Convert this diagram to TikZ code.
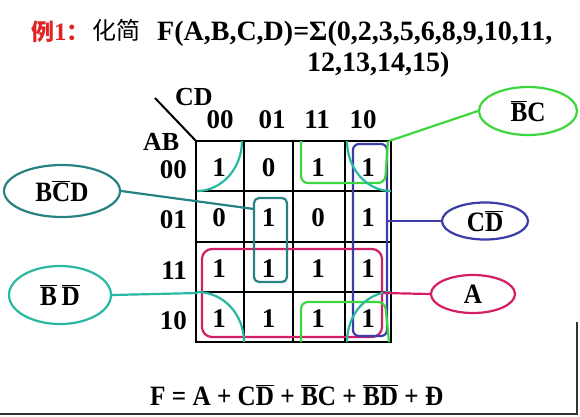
\documentclass[tikz,border=0pt]{standalone}
\usepackage{fontspec}
\setmainfont{Liberation Serif}
\newfontfamily\cond[FakeStretch=0.9]{Liberation Serif}
\newfontfamily\cjk{Noto Sans CJK SC}
\usetikzlibrary{shapes.geometric}
\definecolor{tred}{RGB}{225,35,40}
\definecolor{bteal}{RGB}{40,185,160}
\definecolor{dteal}{RGB}{40,130,130}
\definecolor{kgreen}{RGB}{60,215,60}
\definecolor{kblue}{RGB}{60,60,170}
\definecolor{kmag}{RGB}{210,30,100}
\newcommand\fs[1]{\fontsize{#1}{#1}\selectfont\bfseries}
\newcommand\fc[1]{\fontsize{#1}{#1}\selectfont\cond\bfseries}
\newcommand\ob[1]{$\overline{\mbox{#1}}$}
\tikzset{
  gridline/.style={line width=2.8pt, black},
  grp/.style={line width=2.2pt},
  lab/.style={ellipse, draw, line width=2.2pt, inner sep=0pt, font=\fc{28}},
  txt/.style={inner sep=0pt, anchor=base},
  cellv/.style={inner sep=0pt, anchor=base, font=\fs{27}},
}
\begin{document}
\begin{tikzpicture}[x=1pt,y=-1pt]
\useasboundingbox (0,0) rectangle (580,416);
% title
\node[inner sep=0pt, anchor=base west, text=tred] (ex) at (31,40) {\fontsize{23}{23}\selectfont\cjk\bfseries 例\rmfamily\bfseries\fontsize{25}{25}\selectfont 1\cjk\fontsize{23}{23}\selectfont ：};
\node[inner sep=0pt, anchor=base west] (hj) at (92,39) {\fontsize{24}{24}\selectfont\cjk 化简};
\node[inner sep=0pt, anchor=base west] (t1) at (157,40) {\fs{28}F(A,B,C,D)=Σ(0,2,3,5,6,8,9,10,11,};
\node[inner sep=0pt, anchor=base west] (t2) at (307,71) {\fs{28}12,13,14,15)};
% corner labels
\coordinate (dg1) at (155,98);
\coordinate (dg2) at (196,141);
\draw[line width=2pt] (dg1) -- (dg2);
\node[inner sep=0pt, anchor=base west] (cd) at (175,105) {\fs{26}CD};
\node[inner sep=0pt, anchor=base west] (ab) at (143,150) {\fs{26}AB};
% column headers
\node[txt, font=\fs{27}] (c1) at (220,128) {00};
\node[txt, font=\fs{27}] (c2) at (272,128) {01};
\node[txt, font=\fs{27}] (c3) at (317,128) {11};
\node[txt, font=\fs{27}] (c4) at (363,128) {10};
% row headers
\node[inner sep=0pt, anchor=base east, font=\fs{27}] (r1) at (187,178) {00};
\node[inner sep=0pt, anchor=base east, font=\fs{27}] (r2) at (187,228) {01};
\node[inner sep=0pt, anchor=base east, font=\fs{27}] (r3) at (187,279) {11};
\node[inner sep=0pt, anchor=base east, font=\fs{27}] (r4) at (187,329) {10};
% grid
\draw[gridline] (196,141) rectangle (391,342);
\foreach \x in {244,293,345} \draw[gridline] (\x,141) -- (\x,342);
\foreach \y in {191,242,292} \draw[gridline] (196,\y) -- (391,\y);
% cells
\foreach \v [count=\i] in {1,0,1,1, 0,1,0,1, 1,1,1,1, 1,1,1,1} {
  \pgfmathtruncatemacro\r{int((\i-1)/4)}
  \pgfmathtruncatemacro\c{mod(\i-1,4)}
  \pgfmathsetmacro\cx{{219,268.5,318,368}[\c]}
  \pgfmathsetmacro\cy{{166,216.5,267,317}[\r]+10}
  \node[cellv] (v\i) at (\cx,\cy) {\v};
}
% group A (magenta)
\node[draw=kmag, grp, rounded corners=10pt, minimum width=180pt, minimum height=88pt, inner sep=0pt] (arect) at (292,293) {};
% group CD' (blue)
\node[draw=kblue, grp, rounded corners=6pt, minimum width=34pt, minimum height=192pt, inner sep=0pt] (cdrect) at (370,240) {};
% group BC'D (dark teal)
\node[draw=dteal, grp, rounded corners=5pt, minimum width=33pt, minimum height=84pt, inner sep=0pt] (bcdrect) at (270.5,240) {};
% group B'C (green)
\draw[kgreen, grp, rounded corners=7pt] (301,141) -- (301,183) -- (385,183) -- (388,141);
\draw[kgreen, grp, rounded corners=7pt] (301,342) -- (301,302) -- (385,302) -- (389,342);
% group B'D' (teal arcs)
\draw[bteal, grp] (242,141) .. controls (242,168.6) and (221.4,191) .. (197,191);
\draw[bteal, grp] (347,141) .. controls (347,168.6) and (366.7,191) .. (391,191);
\draw[bteal, grp] (197,292) .. controls (223.5,292) and (244,314.4) .. (244,342);
\draw[bteal, grp] (391,292) .. controls (366.7,292) and (347,314.4) .. (347,342);
% labels
\node[lab, draw=dteal, minimum width=116pt, minimum height=52pt] (bcd) at (62,191) {B\ob{C}D};
\node[lab, draw=bteal, minimum width=102pt, minimum height=58pt] (bd) at (60,295) {\ob{B}\,\ob{D}};
\node[lab, draw=kgreen, minimum width=98pt, minimum height=48pt] (bc) at (528,111) {\ob{B}C};
\node[lab, draw=kblue, minimum width=86pt, minimum height=37pt] (cdl) at (485,221) {C\ob{D}};
\node[lab, draw=kmag, minimum width=84pt, minimum height=38pt] (al) at (473,294) {A};
% connectors
\coordinate (bcdend) at (254,209);
\draw[dteal, grp] (bcd.east) -- (bcdend);
\coordinate (bdend) at (198,293);
\draw[bteal, grp] (bd.east) -- (bdend);
\coordinate (bcend) at (389,141);
\draw[kgreen, grp] (bcend) -- (bc.west);
\draw[kblue, grp] (cdrect.east |- cdl.west) -- (cdl.west);
\draw[kmag, grp] (arect.east) -- (al.west);
% result
\node[inner sep=0pt, anchor=base west] (res) at (150,405) {\fc{28}F = A + C\ob{D} + \ob{B}C + \ob{B}\ob{D} + Đ};
% frame
\coordinate (fr1) at (0,414);
\coordinate (fr2) at (577,414);
\coordinate (fr3) at (577,322);
\draw[line width=1.2pt, black!80] (fr1) -- (fr2) -- (fr3);
\end{tikzpicture}
\end{document}
